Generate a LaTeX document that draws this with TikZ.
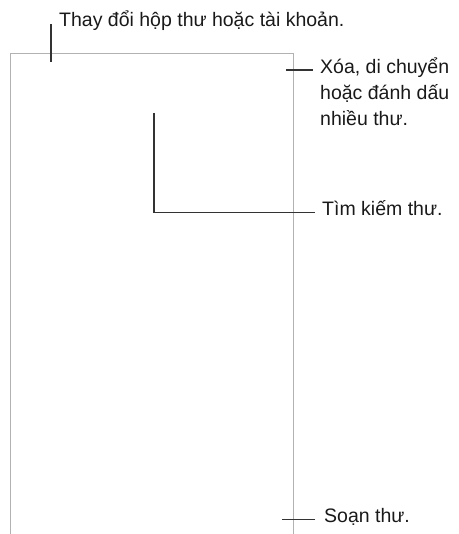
\documentclass[tikz,border=0pt]{standalone}
\usepackage{fontspec}
\setmainfont{Liberation Sans}
\usetikzlibrary{positioning}

\begin{document}
\begin{tikzpicture}[x=1pt, y=-1pt,
  frame/.style={draw=black!30, line width=0.9pt},
  leader/.style={draw=black!80, line width=1.2pt},
  callout/.style={font=\fontsize{19.5}{26}\selectfont, text=black!90,
    inner sep=0pt, align=left}]
\useasboundingbox (0,0) rectangle (458,534);

% --- screen outline, open at the bottom ---
\draw[frame] (10,534) -- (10,53) -- (293,53) -- (293,534);

% --- callout texts ---
\node[callout, anchor=base west] (mailbox) at (59,27) {Thay đổi hộp thư hoặc tài khoản.};
\node[callout, anchor=north west] (select) at (320,58) {Xóa, di chuyển\\hoặc đánh dấu\\nhiều thư.};
\node[callout, anchor=base west] (search) at (322,215) {Tìm kiếm thư.};
\node[callout, anchor=base west] (compose) at (324,522) {Soạn thư.};

% --- leader lines ---
\coordinate (mailboxtip) at (51,62);
\coordinate (selecttip) at (286,70);
\coordinate (searchtip) at (154,113);
\coordinate (composetip) at (282,516);

\draw[leader] (mailboxtip) -- (mailboxtip |- mailbox.mid west);
\draw[leader] (selecttip) -- ++(27,0);
\draw[leader] (searchtip) |- ([xshift=-7pt]search.mid west);
\draw[leader] ([xshift=-9pt]compose.mid west) -- (compose.mid west -| composetip);
\end{tikzpicture}
\end{document}
